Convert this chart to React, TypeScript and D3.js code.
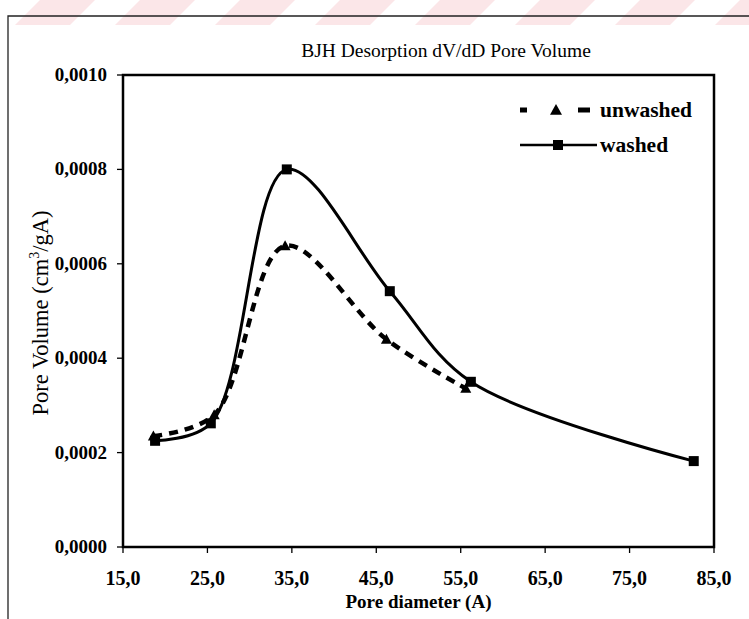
import React from "react";
import * as d3 from "d3";

const unwashedX = [18.6, 25.8, 34.2, 46.2, 55.6];
const unwashedY = [0.000235, 0.00028, 0.000638, 0.00044, 0.000336];
const washedX = [18.8, 25.4, 34.4, 46.6, 56.2, 82.6];
const washedY = [0.000225, 0.000262, 0.0008, 0.000542, 0.00035, 0.000182];
const xTicks = [15, 25, 35, 45, 55, 65, 75, 85];
const yTicks = [0, 0.0002, 0.0004, 0.0006, 0.0008, 0.001];
const seriesNames = ["unwashed", "washed"];

const W = 749, H = 619;
const L = 123, R = 714, T = 75, B = 547;

export default function App() {
  const x = d3.scaleLinear().domain([15, 85]).range([L, R]);
  const y = d3.scaleLinear().domain([0, 0.001]).range([B, T]);
  const line = d3
    .line<[number, number]>()
    .x((d) => x(d[0]))
    .y((d) => y(d[1]))
    .curve(d3.curveCatmullRom.alpha(0.5));
  const uw: [number, number][] = unwashedX.map((v, i) => [v, unwashedY[i]]);
  const w: [number, number][] = washedX.map((v, i) => [v, washedY[i]]);
  const fmtX = (v: number) => v.toFixed(1).replace(".", ",");
  const fmtY = (v: number) => v.toFixed(4).replace(".", ",");
  const tri = (cx: number, cy: number, s: number) =>
    `M${cx},${cy - s} L${cx + s},${cy + s * 0.8} L${cx - s},${cy + s * 0.8} Z`;
  const serif = "'Liberation Serif', 'Times New Roman', serif";

  const stripes = d3.range(-1, 9).map((i) => i * 100);

  return (
    <svg
      width={W}
      height={H}
      style={{ position: "absolute", left: 0, top: 0, background: "#fff" }}
      fontFamily={serif}
    >
      {/* faint watermark stripes */}
      {stripes.map((s, i) => (
        <path
          key={i}
          d={`M${s + 40},0 L${s + 95},0 L${s + 70},25 L${s + 15},25 Z`}
          fill="#fbe6e8"
        />
      ))}
      {/* outer frame */}
      <path d={`M8,${H} L8,16 L${W},16`} fill="none" stroke="#222" strokeWidth={1.3} />

      {/* title */}
      <text x={446} y={57} textAnchor="middle" fontSize={19.5}>
        BJH Desorption dV/dD Pore Volume
      </text>

      {/* plot box */}
      <rect x={L} y={T} width={R - L} height={B - T} fill="none" stroke="#000" strokeWidth={2.5} />

      {/* y ticks */}
      {yTicks.map((t) => (
        <g key={t}>
          <line x1={L - 6} x2={L} y1={y(t)} y2={y(t)} stroke="#000" strokeWidth={1.3} />
          <text x={L - 16} y={y(t) + 6} textAnchor="end" fontSize={19} fontWeight="bold">
            {fmtY(t)}
          </text>
        </g>
      ))}
      {/* x ticks */}
      {xTicks.map((t) => (
        <g key={t}>
          <line x1={x(t)} x2={x(t)} y1={B} y2={B + 6} stroke="#000" strokeWidth={1.3} />
          <text x={x(t)} y={B + 38} textAnchor="middle" fontSize={20} fontWeight="bold">
            {fmtX(t)}
          </text>
        </g>
      ))}

      {/* axis titles */}
      <text x={(L + R) / 2} y={B + 61} textAnchor="middle" fontSize={19} fontWeight="bold">
        Pore diameter (A)
      </text>
      <text
        transform={`translate(48,${313}) rotate(-90)`}
        textAnchor="middle"
        fontSize={22.5}
      >
        Pore Volume (cm<tspan fontSize={14} dy={-9}>3</tspan>
        <tspan dy={9}>/gA)</tspan>
      </text>

      {/* series */}
      <path d={line(uw) || ""} fill="none" stroke="#000" strokeWidth={4.5} strokeDasharray="9,7" />
      <path d={line(w) || ""} fill="none" stroke="#000" strokeWidth={3} />
      {uw.map((d, i) => (
        <path key={"u" + i} d={tri(x(d[0]), y(d[1]), 5.5)} fill="#000" />
      ))}
      {w.map((d, i) => (
        <rect key={"w" + i} x={x(d[0]) - 5} y={y(d[1]) - 5} width={10} height={10} fill="#000" />
      ))}

      {/* legend */}
      <g>
        <line x1={520} x2={527} y1={110} y2={110} stroke="#000" strokeWidth={5} />
        <path d={tri(556, 110, 6)} fill="#000" />
        <line x1={578} x2={590} y1={110} y2={110} stroke="#000" strokeWidth={5} />
        <text x={600} y={117} fontSize={21.5} fontWeight="bold">{seriesNames[0]}</text>
        <line x1={520} x2={597} y1={145} y2={145} stroke="#000" strokeWidth={2.5} />
        <rect x={553} y={140} width={10} height={10} fill="#000" />
        <text x={600} y={152} fontSize={21.5} fontWeight="bold">{seriesNames[1]}</text>
      </g>
    </svg>
  );
}
